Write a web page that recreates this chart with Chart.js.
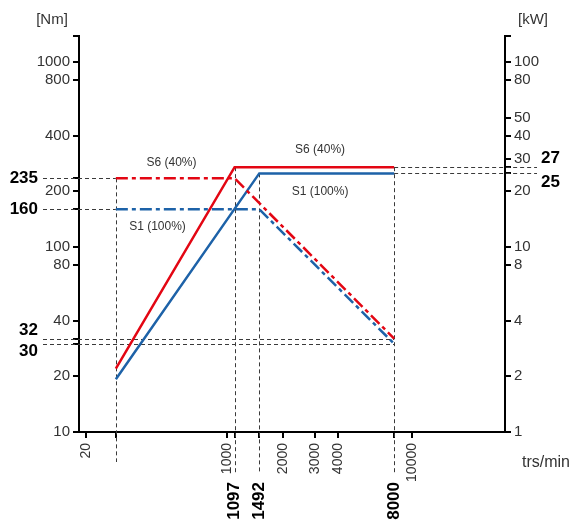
<!DOCTYPE html>
<html>
<head>
<meta charset="utf-8">
<script src="https://cdn.jsdelivr.net/npm/chart.js@4.4.1/dist/chart.umd.min.js"></script>
<style>
  html, body { margin: 0; padding: 0; background: #fff; }
  #wrap { width: 579px; height: 521px; position: relative; }
</style>
</head>
<body>
<div id="wrap"><canvas id="chart"></canvas></div>
<script>
// vitesses en trs/min
const speedStart = 250;
const s6Speed = [speedStart, 1097, 8000];
const s6Torque = [235, 235, 32];   // Nm
const s6Power = [2.2, 27, 27];     // kW

const s1Speed = [speedStart, 1492, 8000];
const s1Torque = [160, 160, 30];
const s1Power = [1.93, 25, 25];

const torqueMarks = [235, 160, 32, 30];
const powerMarks = [27, 25];
const speedMarks = [1097, 1492, 8000];

const xTickValues = [173, 1000, 2000, 3000, 4000, 10000];
const xTickLabels = ['20', '1000', '2000', '3000', '4000', '10000'];
const torqueTicks = [10, 20, 40, 80, 100, 200, 400, 800, 1000];
const powerTicks = [1, 2, 4, 8, 10, 20, 30, 40, 50, 80, 100];

const RED = '#e30613';
const BLUE = '#1d62a8';
const FONT = "'Liberation Sans', Arial, sans-serif";

function pts(xs, ys) {
    return xs.map((x, i) => ({ x: x, y: ys[i] }));
}

function fixTicks(values) {
    return function (scale) {
        scale.ticks = values.map(v => ({ value: v }));
    };
}

const refLines = {
    id: 'refLines',
    beforeDatasetsDraw(chart) {
        const { ctx, chartArea } = chart;
        const x = chart.scales.x, y = chart.scales.y, y2 = chart.scales.y2;
        const xStart = x.getPixelForValue(speedStart);
        const x8000 = x.getPixelForValue(speedMarks[2]);
        ctx.save();
        ctx.strokeStyle = '#3a3a3a';
        ctx.lineWidth = 1;
        ctx.setLineDash([4, 3]);
        const line = (x1, y1, x2, y2_) => {
            ctx.beginPath();
            ctx.moveTo(x1, y1);
            ctx.lineTo(x2, y2_);
            ctx.stroke();
        };
        // couple
        torqueMarks.forEach((t, i) => {
            const py = Math.round(y.getPixelForValue(t)) + 0.5;
            line(chartArea.left - 36, py, i < 2 ? xStart : x8000, py);
        });
        // puissance
        powerMarks.forEach(p => {
            const py = Math.round(y2.getPixelForValue(p)) + 0.5;
            line(x8000, py, chartArea.right + 32, py);
        });
        // vitesses
        const px0 = Math.round(xStart) + 0.5;
        line(px0, y.getPixelForValue(s6Torque[0]), px0, chartArea.bottom + 30);
        line(Math.round(x.getPixelForValue(speedMarks[0])) + 0.5, y2.getPixelForValue(powerMarks[0]), Math.round(x.getPixelForValue(speedMarks[0])) + 0.5, chartArea.bottom + 41);
        line(Math.round(x.getPixelForValue(speedMarks[1])) + 0.5, y2.getPixelForValue(powerMarks[1]), Math.round(x.getPixelForValue(speedMarks[1])) + 0.5, chartArea.bottom + 41);
        line(Math.round(x8000) + 0.5, y2.getPixelForValue(powerMarks[0]), Math.round(x8000) + 0.5, chartArea.bottom + 41);
        ctx.restore();
    },
    afterDraw(chart) {
        const { ctx, chartArea } = chart;
        const x = chart.scales.x, y = chart.scales.y, y2 = chart.scales.y2;
        ctx.save();
        ctx.fillStyle = '#000';
        ctx.font = 'bold 17px ' + FONT;
        ctx.textBaseline = 'middle';
        // valeurs en gras à gauche
        const leftNudge = [0, 0, -8, 8];
        ctx.textAlign = 'right';
        torqueMarks.forEach((t, i) => {
            ctx.fillText(String(t), chartArea.left - 41, y.getPixelForValue(t) + leftNudge[i]);
        });
        const rightNudge = [-9, 9];
        ctx.textAlign = 'left';
        powerMarks.forEach((p, i) => {
            ctx.fillText(String(p), chartArea.right + 36, y2.getPixelForValue(p) + rightNudge[i]);
        });
        // vitesses en bas
        speedMarks.forEach(s => {
            ctx.save();
            ctx.translate(x.getPixelForValue(s), chartArea.bottom + 50);
            ctx.rotate(-Math.PI / 2);
            ctx.textAlign = 'right';
            ctx.fillText(String(s), 0, 0);
            ctx.restore();
        });
        // unités
        ctx.fillStyle = '#333';
        ctx.font = '15px ' + FONT;
        ctx.textAlign = 'center';
        ctx.fillText('[Nm]', chartArea.left - 27, 20);
        ctx.fillText('[kW]', chartArea.right + 28, 20);
        ctx.textAlign = 'left';
        ctx.font = '16px ' + FONT;
        ctx.fillText('trs/min', chartArea.right + 17, chartArea.bottom + 31);
        // étiquettes des courbes
        ctx.font = '12px ' + FONT;
        ctx.textAlign = 'center';
        ctx.fillText('S6 (40%)', x.getPixelForValue(500), y.getPixelForValue(284));
        ctx.fillText('S1 (100%)', x.getPixelForValue(420), y.getPixelForValue(128));
        ctx.fillText('S6 (40%)', x.getPixelForValue(3180), y.getPixelForValue(334));
        ctx.fillText('S1 (100%)', x.getPixelForValue(3180), y.getPixelForValue(198));
        ctx.restore();
    }
};

const axisGrid = { drawOnChartArea: false, color: '#000', lineWidth: 2, tickLength: 6 };
const axisBorder = { color: '#000', width: 2 };

new Chart(document.getElementById('chart'), {
    type: 'scatter',
    data: {
        datasets: [{
            label: 'S6 couple',
            data: pts(s6Speed, s6Torque),
            yAxisID: 'y',
            borderColor: RED,
            borderWidth: 2.5,
            borderDash: [12, 4, 4, 4],
            showLine: true,
            pointRadius: 0
        }, {
            label: 'S1 couple',
            data: pts(s1Speed, s1Torque),
            yAxisID: 'y',
            borderColor: BLUE,
            borderWidth: 2.5,
            borderDash: [12, 4, 4, 4],
            showLine: true,
            pointRadius: 0
        }, {
            label: 'S6 puissance',
            data: pts(s6Speed, s6Power),
            yAxisID: 'y2',
            borderColor: RED,
            borderWidth: 2.5,
            showLine: true,
            pointRadius: 0
        }, {
            label: 'S1 puissance',
            data: pts(s1Speed, s1Power),
            yAxisID: 'y2',
            borderColor: BLUE,
            borderWidth: 2.5,
            showLine: true,
            pointRadius: 0
        }]
    },
    options: {
        responsive: true,
        maintainAspectRatio: false,
        animation: false,
        layout: { padding: { top: 36, left: 0, right: 0, bottom: 0 } },
        plugins: {
            legend: { display: false },
            tooltip: { enabled: false }
        },
        scales: {
            x: {
                type: 'logarithmic',
                min: 158,
                max: 31820,
                grid: axisGrid,
                border: axisBorder,
                afterBuildTicks: fixTicks(xTickValues.concat([speedStart], speedMarks)),
                afterFit: s => { s.height = 89; },
                ticks: {
                    autoSkip: false,
                    minRotation: 90,
                    maxRotation: 90,
                    padding: 5,
                    color: '#333',
                    font: { family: FONT, size: 14 },
                    callback: v => {
                        const i = xTickValues.indexOf(v);
                        return i >= 0 ? xTickLabels[i] : '';
                    }
                }
            },
            y: {
                type: 'logarithmic',
                position: 'left',
                min: 10,
                max: 1382,
                grid: axisGrid,
                border: axisBorder,
                afterBuildTicks: fixTicks(torqueTicks.concat(torqueMarks, [1382])),
                afterFit: s => { s.width = 79; },
                ticks: {
                    autoSkip: false,
                    padding: 3,
                    color: '#333',
                    font: { family: FONT, size: 15 },
                    callback: v => torqueTicks.includes(v) ? String(v) : ''
                }
            },
            y2: {
                type: 'logarithmic',
                position: 'right',
                min: 1,
                max: 138.2,
                grid: axisGrid,
                border: axisBorder,
                afterBuildTicks: fixTicks(powerTicks.concat(powerMarks, [138.2])),
                afterFit: s => { s.width = 74; },
                ticks: {
                    autoSkip: false,
                    padding: 3,
                    color: '#333',
                    font: { family: FONT, size: 15 },
                    callback: v => powerTicks.includes(v) ? String(v) : ''
                }
            }
        }
    },
    plugins: [refLines]
});
</script>
</body>
</html>
